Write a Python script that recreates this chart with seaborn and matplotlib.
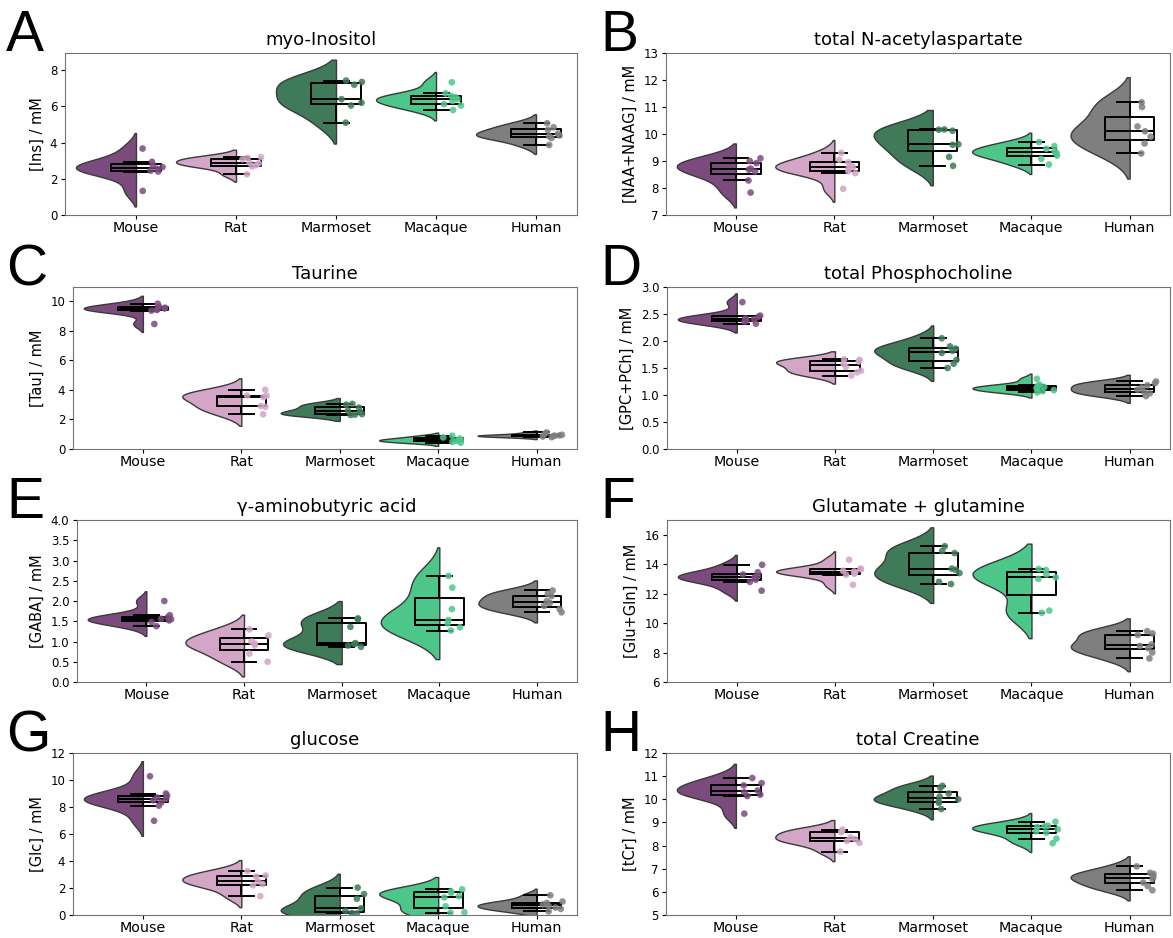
import numpy as np
import pandas as pd
import matplotlib
matplotlib.use("Agg")
import matplotlib.pyplot as plt
import seaborn as sns

species = ["Mouse", "Rat", "Marmoset", "Macaque", "Human"]
palette = ["#7b4b7e", "#d3a5c6", "#3f7b59", "#4dc68a", "#7f7f7f"]

# values per species (Mouse, Rat, Marmoset, Macaque, Human), mM
ins_vals = [[1.33, 2.40, 2.45, 2.55, 2.65, 2.75, 2.94, 3.67],
            [2.25, 2.68, 2.75, 2.85, 2.90, 3.08, 3.15, 3.20],
            [5.10, 6.05, 6.20, 6.40, 7.20, 7.35, 7.43],
            [5.80, 6.05, 6.12, 6.30, 6.40, 6.50, 6.58, 6.72, 7.33],
            [3.87, 4.25, 4.35, 4.40, 4.50, 4.70, 4.85, 5.07]]
naa_vals = [[7.83, 8.28, 8.60, 8.68, 8.72, 8.92, 9.00, 9.10],
            [7.97, 8.55, 8.62, 8.72, 8.78, 8.82, 8.95, 9.05, 9.30],
            [8.82, 9.15, 9.60, 9.62, 10.12, 10.16, 10.17],
            [8.87, 9.08, 9.20, 9.30, 9.35, 9.45, 9.55, 9.70],
            [9.28, 9.65, 9.90, 10.10, 10.28, 11.00, 11.17]]
tau_vals = [[8.45, 9.35, 9.40, 9.45, 9.50, 9.55, 9.62, 9.82],
            [2.35, 2.85, 2.90, 3.50, 3.60, 3.62, 4.00],
            [2.30, 2.32, 2.36, 2.50, 2.60, 2.80, 3.00, 3.05],
            [0.42, 0.48, 0.55, 0.60, 0.62, 0.70, 0.78, 0.90],
            [0.80, 0.84, 0.87, 0.90, 0.92, 0.96, 1.00, 1.12]]
gpc_vals = [[2.32, 2.36, 2.38, 2.40, 2.42, 2.45, 2.47, 2.72],
            [1.36, 1.42, 1.45, 1.52, 1.58, 1.62, 1.65, 1.66],
            [1.50, 1.58, 1.65, 1.78, 1.82, 1.86, 1.90, 2.05],
            [1.05, 1.07, 1.09, 1.12, 1.13, 1.15, 1.17, 1.19, 1.30],
            [0.98, 1.03, 1.06, 1.10, 1.14, 1.18, 1.22, 1.25]]
gaba_vals = [[1.38, 1.48, 1.52, 1.55, 1.56, 1.60, 1.65, 2.00],
             [0.50, 0.70, 0.90, 0.95, 1.00, 1.15, 1.30],
             [0.87, 0.90, 0.94, 0.96, 1.36, 1.55, 1.57],
             [1.27, 1.35, 1.45, 1.53, 1.80, 2.33, 2.62],
             [1.72, 1.80, 1.88, 1.95, 2.00, 2.12, 2.18, 2.26]]
glx_vals = [[12.20, 12.80, 12.95, 13.10, 13.20, 13.30, 13.45, 13.96],
            [12.60, 13.28, 13.35, 13.45, 13.50, 13.55, 13.65, 13.70, 14.30],
            [12.65, 12.80, 13.40, 13.62, 13.70, 14.75, 14.90, 15.22],
            [10.70, 10.85, 13.00, 13.10, 13.30, 13.60, 13.67],
            [7.60, 8.00, 8.30, 8.45, 8.55, 9.20, 9.30, 9.45]]
glc_vals = [[6.98, 8.10, 8.35, 8.50, 8.60, 8.70, 8.85, 9.00, 10.28],
            [1.40, 2.20, 2.30, 2.50, 2.85, 2.92, 3.25],
            [0.12, 0.15, 0.30, 0.50, 1.20, 1.55, 2.03],
            [0.17, 0.20, 0.65, 1.30, 1.40, 1.65, 1.75, 1.90],
            [0.27, 0.45, 0.55, 0.65, 0.78, 0.90, 1.00, 1.46]]
tcr_vals = [[9.38, 10.14, 10.20, 10.30, 10.38, 10.60, 10.70, 10.92],
            [7.74, 8.12, 8.20, 8.28, 8.35, 8.58, 8.62, 8.69],
            [9.58, 9.85, 9.90, 10.00, 10.12, 10.25, 10.50, 10.58],
            [8.10, 8.30, 8.56, 8.62, 8.70, 8.80, 8.84, 8.86, 9.03],
            [6.07, 6.25, 6.40, 6.55, 6.65, 6.78, 6.82, 7.10]]

letters = ["A", "B", "C", "D", "E", "F", "G", "H"]
titles = ["myo-Inositol", "total N-acetylaspartate", "Taurine", "total Phosphocholine",
          "\u03b3-aminobutyric acid", "Glutamate + glutamine", "glucose", "total Creatine"]
ylabels = ["[Ins] / mM", "[NAA+NAAG] / mM", "[Tau] / mM", "[GPC+PCh] / mM",
           "[GABA] / mM", "[Glu+Gln] / mM", "[Glc] / mM", "[tCr] / mM"]
all_vals = [ins_vals, naa_vals, tau_vals, gpc_vals, gaba_vals, glx_vals, glc_vals, tcr_vals]
ylims = [(0, 8.95), (7, 13), (0, 10.95), (0, 3.0), (0, 4.0), (6, 17), (0, 12), (5, 12)]
yticks = [np.arange(0, 9, 2), np.arange(7, 14, 1), np.arange(0, 11, 2),
          np.arange(0, 3.01, 0.5), np.arange(0, 4.01, 0.5), np.arange(6, 17, 2),
          np.arange(0, 13, 2), np.arange(5, 13, 1)]

W, H = 1173, 938
fig = plt.figure(figsize=(W / 100, H / 100), dpi=100)
np.random.seed(7)

# axes boxes in pixels: (left, right)
ax_lr = [(65, 577), (666, 1170), (73, 577), (667, 1170),
         (77, 577), (667, 1170), (73, 577), (666, 1170)]
row_top = [53, 287, 520, 753]
ax_h = 162
half_w = 0.6

for k in range(8):
    r, c = divmod(k, 2)
    L, R = ax_lr[k]
    ax = fig.add_axes([L / W, 1 - (row_top[r] + ax_h) / H, (R - L) / W, ax_h / H])
    vals = all_vals[k]
    df = pd.DataFrame({
        "species": np.repeat(species, [len(v) for v in vals]),
        "value": np.concatenate(vals),
    })
    for i, sp in enumerate(species):
        sub = df[df["species"] == sp]
        nb = len(ax.collections)
        sns.violinplot(data=sub, x="species", y="value", order=species, color=palette[i],
                       split=True, inner=None, density_norm="width", width=half_w,
                       linewidth=1, linecolor="#3a3a3a", saturation=1, ax=ax)
        # put the flat side of the half violin on the category centre
        for coll in ax.collections[nb:]:
            for p in coll.get_paths():
                p.vertices[:, 0] -= half_w / 2
    sns.boxplot(data=df, x="species", y="value", order=species, fill=False, color="black",
                width=0.5, showfliers=False, linewidth=1.4, ax=ax)
    n_before = len(ax.collections)
    sns.stripplot(data=df, x="species", y="value", order=species, hue="species",
                  hue_order=species, palette=palette, jitter=0.11, size=4.8, alpha=0.85,
                  legend=False, ax=ax, zorder=4)
    for coll in ax.collections[n_before:]:
        off = coll.get_offsets()
        off[:, 0] = off[:, 0] + 0.16
        coll.set_offsets(off)
    ax.set_xlim(-0.71, 4.41)
    ax.set_ylim(*ylims[k])
    ax.set_yticks(yticks[k])
    ax.set_xlabel("")
    ax.set_ylabel(ylabels[k], fontsize=10.5)
    ax.set_title(titles[k], fontsize=13)
    ax.tick_params(axis="x", labelsize=10.3, length=3, pad=1.5)
    ax.tick_params(axis="y", labelsize=8.5, length=3, pad=2.5)
    for s in ax.spines.values():
        s.set_color("0.45")
    fig.text((6 if c == 0 else 600) / W, 1 - (row_top[r] - 2) / H, letters[k], fontsize=41,
             family="Liberation Sans", ha="left", va="baseline")

fig.savefig("out.png", dpi=100)
